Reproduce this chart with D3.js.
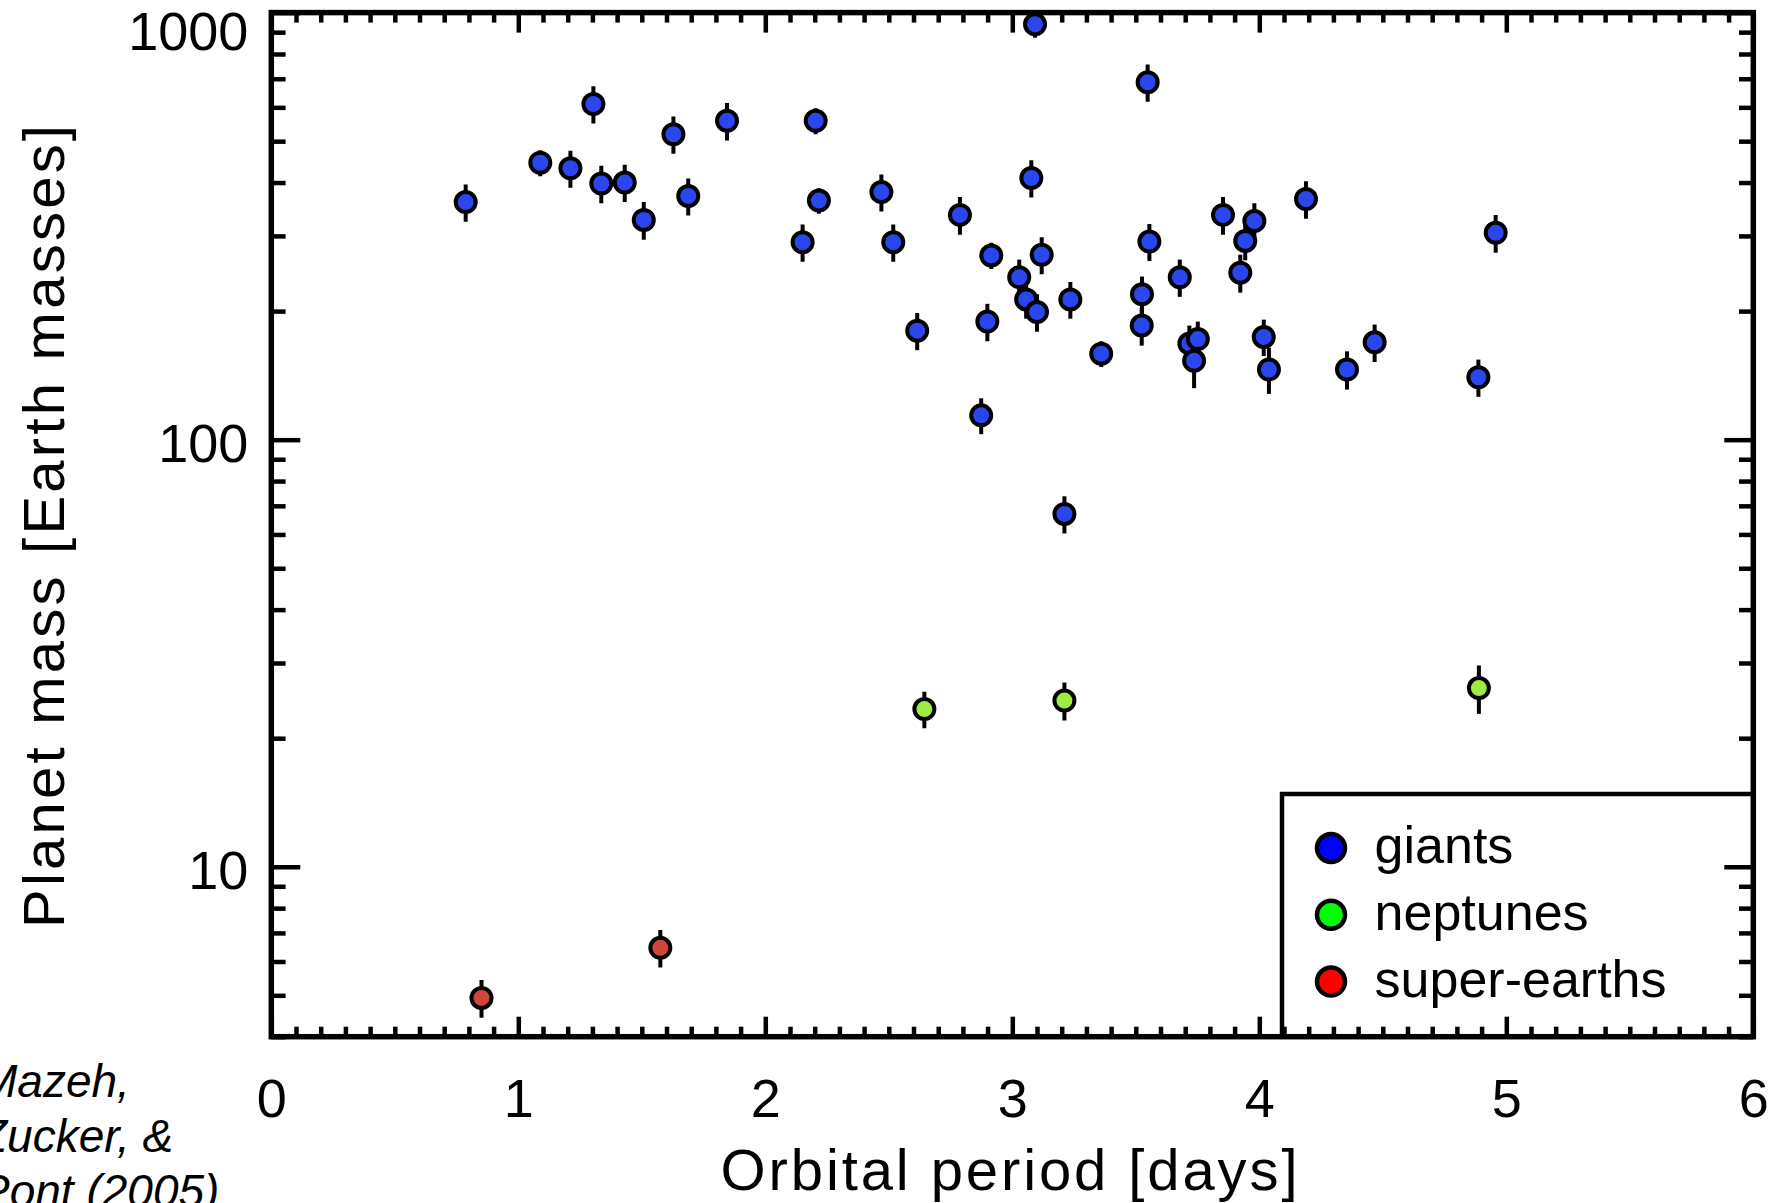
<!DOCTYPE html>
<html>
<head>
<meta charset="utf-8">
<script src="https://cdn.jsdelivr.net/npm/d3@7"></script>
<style>
body { margin: 0; background: #fff; }
text { font-family: "Liberation Sans", Arial, sans-serif; fill: #000; }
</style>
</head>
<body>
<script>

// giants: orbital period [days], mass [Earth masses], error
var giantPeriod = [0.787, 1.089, 1.211, 1.304, 1.336, 1.431, 1.508, 1.628, 1.688, 1.845,
  2.151, 2.204, 2.217, 2.470, 2.518, 2.615, 2.788, 2.874, 2.899, 2.915,
  3.028, 3.056, 3.077, 3.092, 3.100, 3.119, 3.211, 3.235, 3.360, 3.524,
  3.525, 3.548, 3.555, 3.678, 3.717, 3.736, 3.751, 3.853, 3.923, 3.943,
  3.980, 4.018, 4.039, 4.189, 4.355, 4.467, 4.887, 4.957];
var giantMass = [360, 445, 432, 611, 398, 400, 327, 519, 372, 558,
  290, 558, 363, 380, 290, 180, 336, 114, 189, 270,
  240, 213, 410, 939, 199, 271, 67.0, 213, 159, 185,
  219, 687, 291, 240, 168, 153, 172, 336, 246, 292,
  325, 174, 146, 366, 146, 169, 140, 305];
var giantErr = [36, 31, 43, 61, 40, 40, 33, 52, 37, 56,
  29, 39, 25, 38, 29, 18, 34, 11, 19, 19,
  24, 21, 41, 66, 20, 27, 6.7, 21, 11, 19,
  22, 69, 29, 24, 17, 21, 17, 34, 25, 29,
  33, 17, 18, 37, 15, 17, 14, 31];

var neptunePeriod = [2.644, 3.211, 4.889];
var neptuneMass = [23.4, 24.5, 26.2];
var neptuneErr = [2.3, 2.5, 3.4];

var superPeriod = [0.851, 1.575];
var superMass = [4.93, 6.46];
var superErr = [0.5, 0.65];

var legendLabels = ["giants", "neptunes", "super-earths"];
var legendColors = ["#0000ff", "#00ff00", "#ff0000"];
var citation = ["Mazeh,", "Zucker, &", "Pont (2005)"];

var svgWidth = 1785;
var svgHeight = 1203;

var margin = {
  top: 12.6,
  right: 31.7,
  bottom: 166.3,
  left: 271.3
};

var width = svgWidth - margin.left - margin.right;
var height = svgHeight - margin.top - margin.bottom;

var svg = d3.select("body")
  .append("svg")
  .attr("width", svgWidth)
  .attr("height", svgHeight);

var chartGroup = svg.append("g")
  .attr("transform", `translate(${margin.left}, ${margin.top})`);

var x = d3.scaleLinear().domain([0, 6]).range([0, width]);
var y = d3.scaleLog().domain([4, 1000]).range([height, 0]);

chartGroup.append("clipPath")
  .attr("id", "plotClip")
  .append("rect")
  .attr("width", width)
  .attr("height", height);

// ticks, all pointing into the plot
var yMajor = [10, 100, 1000];
var yMinor = y.ticks().filter(d => yMajor.indexOf(d) < 0);
var xMinor = x.ticks(60).filter(d => Math.abs(d - Math.round(d)) > 1e-6);

function styleAxis(g) {
  g.select(".domain").remove();
  g.selectAll("line").attr("stroke-width", 4.5);
  g.attr("font-family", null).attr("font-size", null);
}

chartGroup.append("g")
  .call(d3.axisLeft(y).tickValues(yMinor).tickSizeInner(-14.3).tickSizeOuter(0).tickFormat(""))
  .call(styleAxis);

chartGroup.append("g")
  .attr("transform", `translate(${width}, 0)`)
  .call(d3.axisRight(y).tickValues(yMinor).tickSizeInner(-14.3).tickSizeOuter(0).tickFormat(""))
  .call(styleAxis);

chartGroup.append("g")
  .attr("transform", `translate(${width}, 0)`)
  .call(d3.axisRight(y).tickValues(yMajor).tickSizeInner(-29).tickSizeOuter(0).tickFormat(""))
  .call(styleAxis);

var leftAxis = chartGroup.append("g")
  .call(d3.axisLeft(y).tickValues(yMajor).tickSizeInner(-29).tickSizeOuter(0).tickPadding(23).tickFormat(d3.format("d")))
  .call(styleAxis);

leftAxis.selectAll("text")
  .attr("dy", null)
  .attr("font-size", 54)
  .attr("y", d => Math.max(22, 37 - y(d)));

chartGroup.append("g")
  .attr("transform", `translate(0, ${height})`)
  .call(d3.axisBottom(x).tickValues(xMinor).tickSizeInner(-10).tickSizeOuter(0).tickFormat(""))
  .call(styleAxis);

chartGroup.append("g")
  .call(d3.axisTop(x).tickValues(xMinor).tickSizeInner(-10).tickSizeOuter(0).tickFormat(""))
  .call(styleAxis);

chartGroup.append("g")
  .call(d3.axisTop(x).ticks(6).tickSizeInner(-20).tickSizeOuter(0).tickFormat(""))
  .call(styleAxis);

var bottomAxis = chartGroup.append("g")
  .attr("transform", `translate(0, ${height})`)
  .call(d3.axisBottom(x).ticks(6).tickSizeInner(-20).tickSizeOuter(0).tickFormat(d3.format("d")))
  .call(styleAxis);

bottomAxis.selectAll("text")
  .attr("dy", null)
  .attr("y", 80)
  .attr("font-size", 54);

// frame
chartGroup.append("rect")
  .attr("width", width)
  .attr("height", height)
  .attr("fill", "none")
  .attr("stroke", "#000")
  .attr("stroke-width", 5.5);

// data
var series = [
  { period: giantPeriod, mass: giantMass, err: giantErr, color: "#2a46ee" },
  { period: neptunePeriod, mass: neptuneMass, err: neptuneErr, color: "#9eeb42" },
  { period: superPeriod, mass: superMass, err: superErr, color: "#d2463a" }
];

series.forEach(function(s) {
  var pts = s.period.map(function(p, i) {
    return { p: p, m: s.mass[i], e: s.err[i] };
  });

  chartGroup.append("g")
    .attr("clip-path", "url(#plotClip)")
    .selectAll("line")
    .data(pts)
    .enter()
    .append("line")
    .attr("x1", d => x(d.p))
    .attr("x2", d => x(d.p))
    .attr("y1", d => y(d.m + d.e))
    .attr("y2", d => y(d.m - d.e))
    .attr("stroke", "#000")
    .attr("stroke-width", 4);

  chartGroup.append("g")
    .selectAll("circle")
    .data(pts)
    .enter()
    .append("circle")
    .attr("cx", d => x(d.p))
    .attr("cy", d => y(d.m))
    .attr("r", 10)
    .attr("fill", s.color)
    .attr("stroke", "#000")
    .attr("stroke-width", 4);
});

// legend
var legend = svg.append("g")
  .attr("transform", "translate(1282, 794)");

legend.append("rect")
  .attr("width", svgWidth - margin.right - 1282)
  .attr("height", margin.top + height - 794)
  .attr("fill", "none")
  .attr("stroke", "#000")
  .attr("stroke-width", 4.5);

var rows = legend.selectAll(".row")
  .data(legendLabels)
  .enter()
  .append("g")
  .attr("class", "row")
  .attr("transform", (d, i) => `translate(0, ${54 + i * 66.8})`);

rows.append("circle")
  .attr("cx", 49)
  .attr("r", 14)
  .attr("fill", (d, i) => legendColors[i])
  .attr("stroke", "#000")
  .attr("stroke-width", 4.5);

rows.append("text")
  .attr("x", 92.6)
  .attr("y", 15)
  .attr("font-size", 52)
  .text(d => d);

// axis titles
svg.append("text")
  .attr("transform", "translate(64, 526.5) rotate(-90)")
  .attr("text-anchor", "middle")
  .attr("font-size", 58)
  .attr("textLength", 803)
  .attr("lengthAdjust", "spacing")
  .text("Planet mass [Earth masses]");

svg.append("text")
  .attr("x", 1009)
  .attr("y", 1190)
  .attr("text-anchor", "middle")
  .attr("font-size", 58)
  .attr("textLength", 577)
  .attr("lengthAdjust", "spacing")
  .text("Orbital period [days]");

// citation, cut at the left edge as in the original
svg.append("text")
  .attr("font-size", 46)
  .attr("font-style", "italic")
  .selectAll("tspan")
  .data(citation)
  .enter()
  .append("tspan")
  .attr("x", -21)
  .attr("y", (d, i) => 1096.7 + i * 55)
  .text(d => d);

</script>
</body>
</html>
